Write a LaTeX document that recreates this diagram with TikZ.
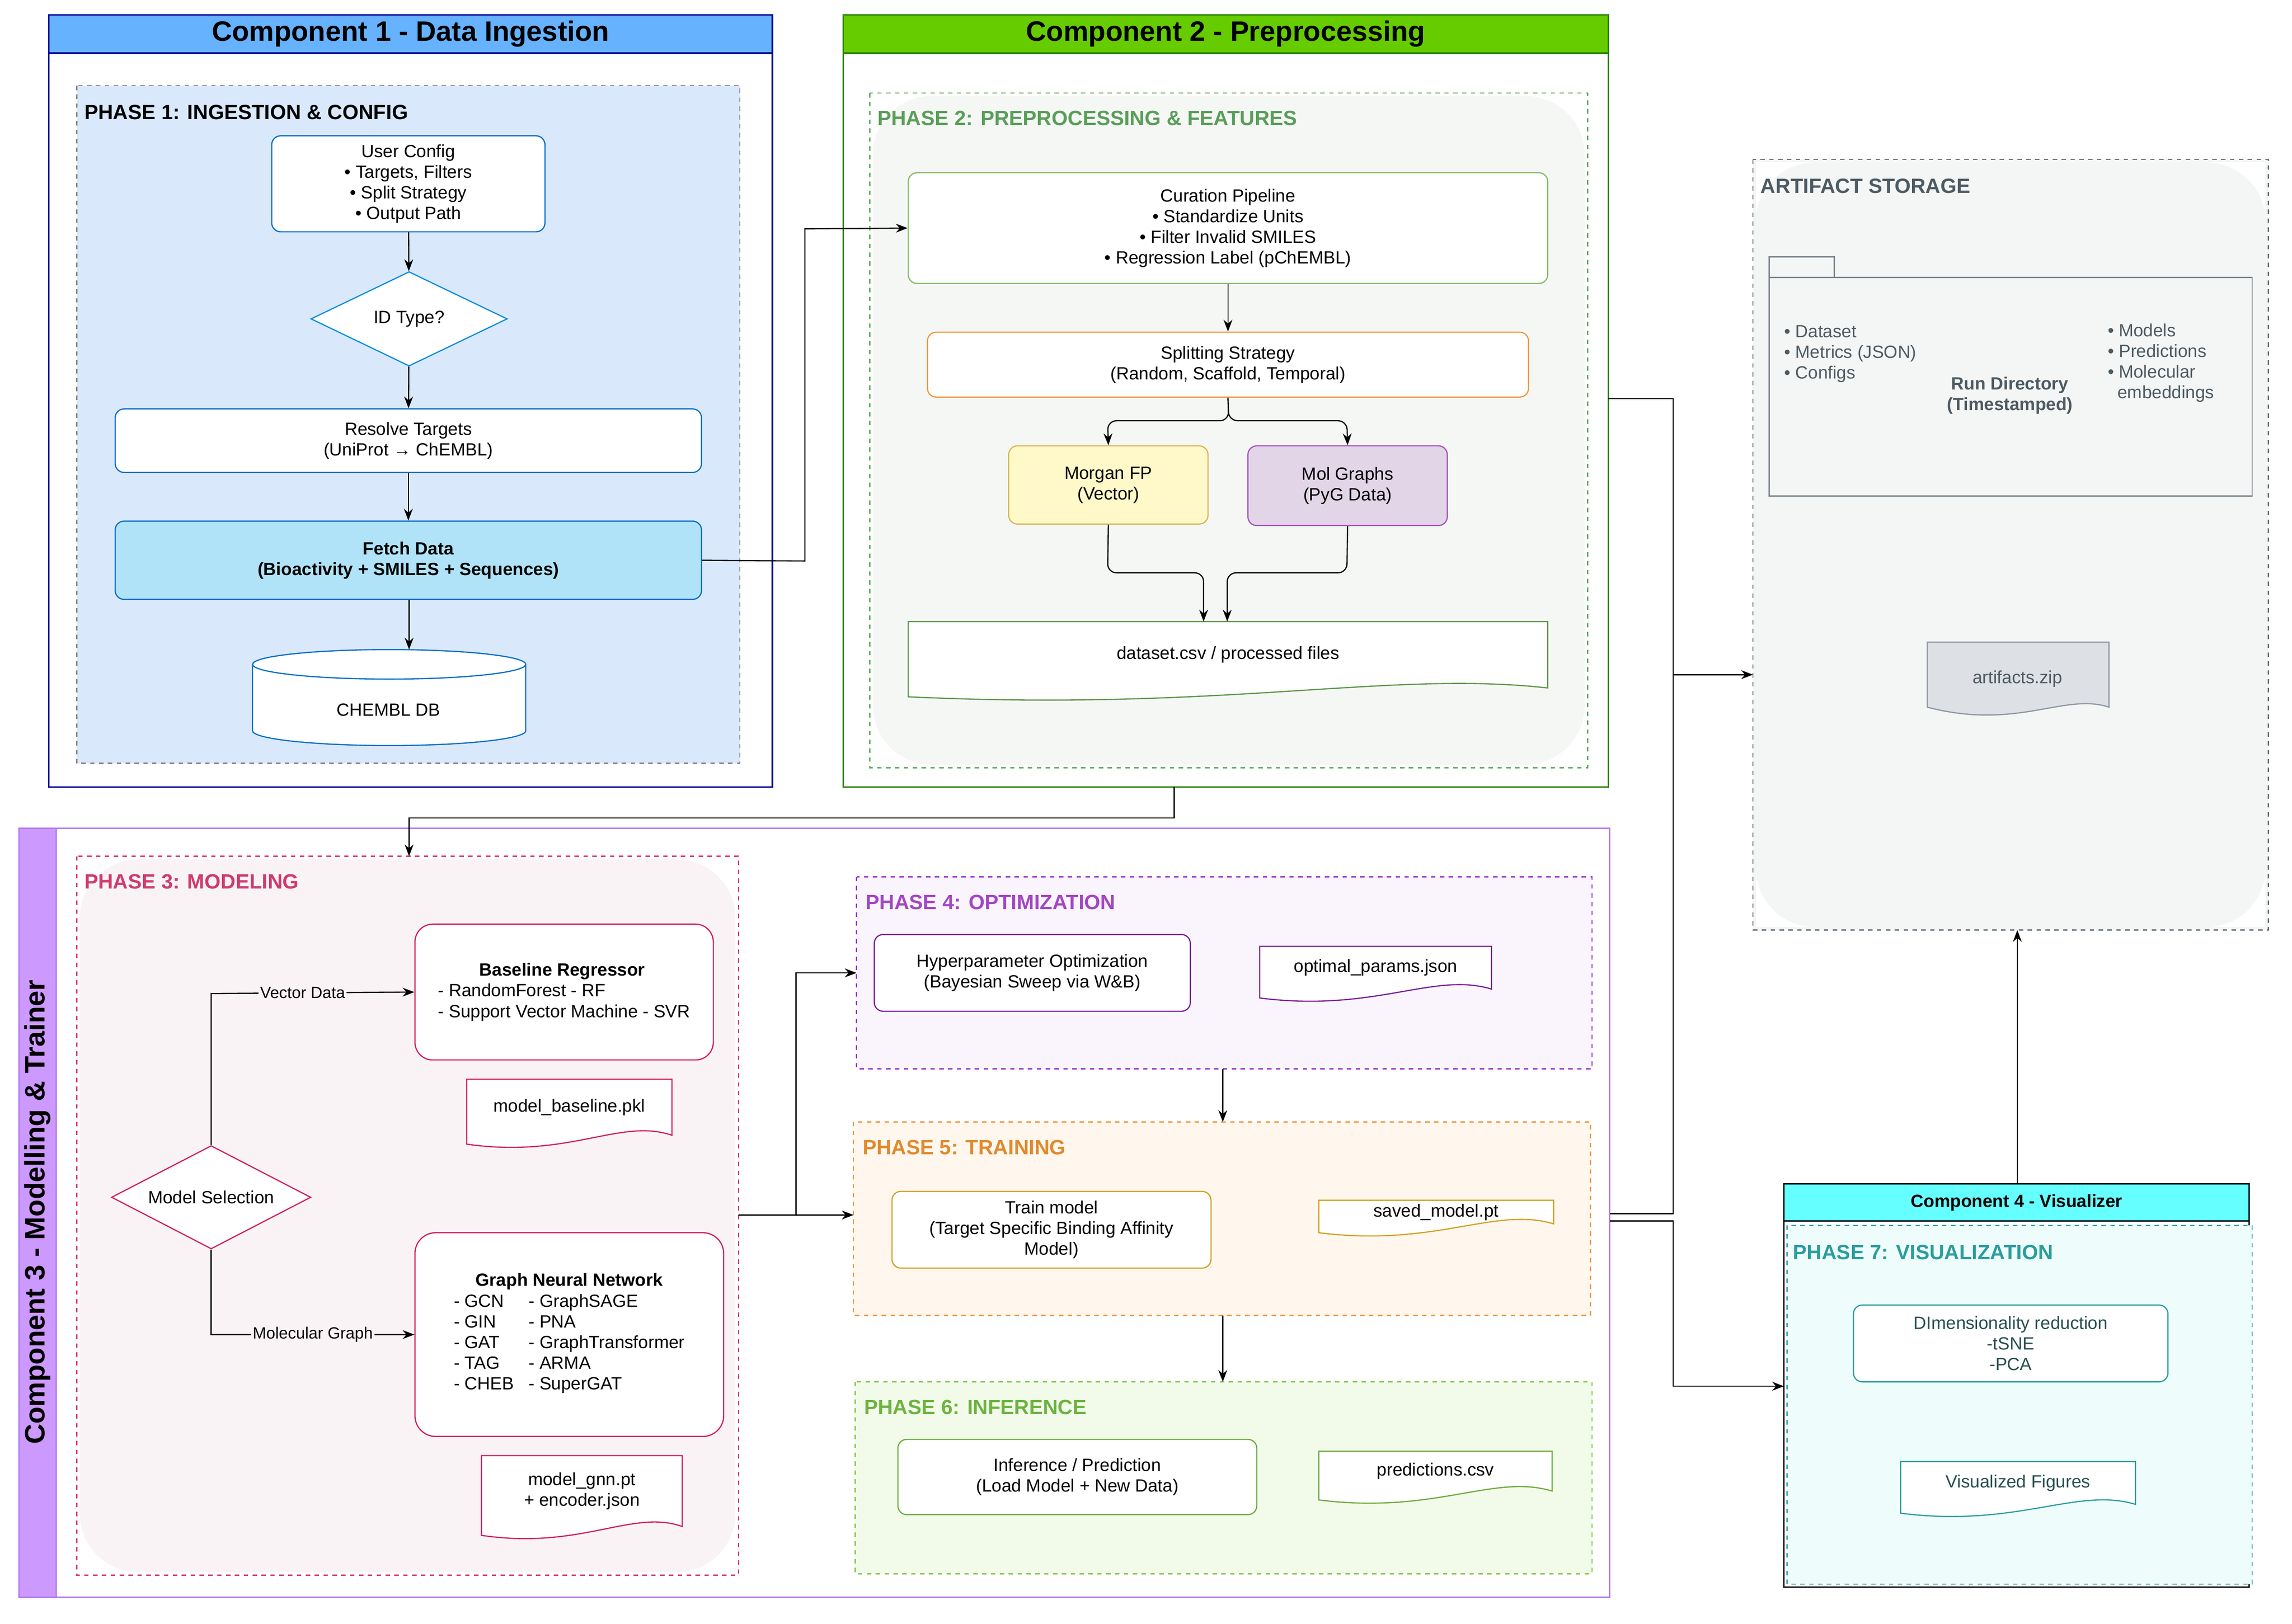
\documentclass[tikz,border=0pt]{standalone}
\usepackage{fontspec}
\setmainfont{Liberation Sans}
\usetikzlibrary{arrows.meta,shapes.geometric,calc}
\newcommand{\fs}[1]{\fontsize{#1}{\numexpr #1*6/5\relax}\selectfont}
\newcommand{\docsh}[7]{% name x1 y1 x2 y2 text color
 \draw[#7,fill=white,line width=0.8pt] (#2,#3) -- (#4,#3) -- (#4,#5-6)
  .. controls ({#4-(#4-#2)*0.25},{#5-18}) and ({#2+(#4-#2)*0.5},{#5+10}) .. (#2,#5) -- cycle;
 \node[txt] (#1) at ({(#2+#4)/2},{(#3+#5)/2-3}) {#6};}
\begin{document}
\begin{tikzpicture}[x=1pt,y=-1pt,
 txt/.style={font=\fs{12},align=center,inner sep=0},
 box/.style={draw,rounded corners=6pt,fill=white,line width=0.8pt,font=\fs{12},align=center},
 ar/.style={-{Stealth[length=8pt,width=6pt]},line width=0.8pt},
 ln/.style={line width=0.8pt},
 phase/.style={dashed,line width=0.8pt},
 ptitle/.style={anchor=north west,font=\bfseries\fs{14},inner sep=0}]
\useasboundingbox[fill=white] (0,0) rectangle (1552,1100);
% ===== Component 1
\draw[draw=blue!60!black,line width=1pt] (33,10) rectangle (523,533);
\draw[draw=blue!60!black,fill={rgb,255:red,102;green,178;blue,255},line width=1pt] (33,10) rectangle (523,36);
\node[font=\bfseries\fs{19}] (c1) at (278,23) {Component 1 - Data Ingestion};
\draw[phase,draw=gray,fill={rgb,255:red,218;green,232;blue,252}] (52,58) rectangle (501,517);
\node[ptitle] (p1) at (57,71) {PHASE 1: INGESTION \& CONFIG};
\node[box,draw={rgb,255:red,0;green,110;blue,200},minimum width=185pt,minimum height=65pt,inner sep=0] (uc) at (276.5,124.5) {User Config\\• Targets, Filters\\• Split Strategy\\• Output Path};
\node[draw={rgb,255:red,0;green,140;blue,220},fill=white,diamond,aspect=2.1,minimum width=133pt,minimum height=64pt,inner sep=0,line width=0.8pt,font=\fs{12}] (idt) at (277,216) {ID Type?};
\node[box,draw={rgb,255:red,0;green,110;blue,200},minimum width=397pt,minimum height=43pt,inner sep=0] (rt) at (276.5,298.5) {Resolve Targets\\(UniProt → ChEMBL)};
\node[box,draw={rgb,255:red,0;green,110;blue,200},fill={rgb,255:red,177;green,227;blue,248},minimum width=397pt,minimum height=53pt,inner sep=0,font=\bfseries\fs{12}] (fd) at (276.5,379.5) {Fetch Data\\(Bioactivity + SMILES + Sequences)};
\draw[fill=white,draw={rgb,255:red,0;green,110;blue,200},line width=0.8pt] (171,450) -- (171,495) arc[start angle=180,end angle=0,x radius=92.5,y radius=10] -- (356,450) arc[start angle=0,end angle=-180,x radius=92.5,y radius=10] -- cycle;
\draw[draw={rgb,255:red,0;green,110;blue,200},line width=0.8pt] (171,450) arc[start angle=180,end angle=0,x radius=92.5,y radius=10];
\node[txt] (db) at (263,481) {CHEMBL DB};
\coordinate (dbtop) at (277,440);
\draw[ar] (uc) -- (idt);
\draw[ar] (idt) -- (rt);
\draw[ar] (rt) -- (fd);
\draw[ar] (fd.south -| dbtop) -- (dbtop);
% ===== Component 2
\draw[draw={rgb,255:red,40;green,130;blue,0},line width=1pt] (571,10) rectangle (1089,533);
\draw[draw={rgb,255:red,40;green,130;blue,0},fill={rgb,255:red,102;green,204;blue,0},line width=1pt] (571,10) rectangle (1089,36);
\node[font=\bfseries\fs{19}] (c2) at (830,23) {Component 2 - Preprocessing};
\fill[rounded corners=40pt,fill={rgb,255:red,245;green,247;blue,245}] (591,65) rectangle (1073,518);
\draw[phase,draw={rgb,255:red,90;green,170;blue,90}] (589,63) rectangle (1075,520);
\node[ptitle,text={rgb,255:red,90;green,158;blue,90}] (p2) at (594,75) {PHASE 2: PREPROCESSING \& FEATURES};
\node[box,draw={rgb,255:red,130;green,190;blue,100},minimum width=433pt,minimum height=75pt,inner sep=0] (cur) at (831.5,154.5) {Curation Pipeline\\• Standardize Units\\• Filter Invalid SMILES\\• Regression Label (pChEMBL)};
\node[box,draw={rgb,255:red,240;green,150;blue,60},minimum width=407pt,minimum height=44pt,inner sep=0] (spl) at (831.5,247) {Splitting Strategy\\(Random, Scaffold, Temporal)};
\node[box,draw={rgb,255:red,214;green,182;blue,86},fill={rgb,255:red,255;green,248;blue,200},minimum width=135pt,minimum height=53pt,inner sep=0] (mfp) at (750.5,328.5) {Morgan FP\\(Vector)};
\node[box,draw={rgb,255:red,170;green,80;blue,190},fill={rgb,255:red,225;green,213;blue,231},minimum width=135pt,minimum height=54pt,inner sep=0] (mg) at (912.5,329) {Mol Graphs\\(PyG Data)};
\docsh{ds}{615}{421}{1048}{472}{dataset.csv / processed files}{draw={rgb,255:red,90;green,150;blue,70}}
\draw[ar] (cur) -- (spl);
\draw[ar,rounded corners=6pt] (spl.south) -- (832,285) -- (750,285) -- (mfp.north);
\draw[ar,rounded corners=6pt] (spl.south) -- (832,285) -- (912,285) -- (mg.north);
\draw[ar,rounded corners=6pt] (mfp.south) -- (750,388) -- (815,388) -- (815,421);
\draw[ar,rounded corners=6pt] (mg.south) -- (912,388) -- (831,388) -- (831,421);
\draw[ar] (fd.east) -- (545,380) -- (545,155) -- (cur.west);
% ===== Artifact storage
\draw[phase,draw={rgb,255:red,100;green,110;blue,120},fill={rgb,255:red,244;green,245;blue,245},rounded corners=0pt] (1187,108) rectangle (1536,630);
\fill[white] (1189,110) rectangle (1534,628);
\fill[rounded corners=40pt,fill={rgb,255:red,244;green,245;blue,245}] (1189,110) rectangle (1534,628);
\node[ptitle,text={rgb,255:red,77;green,91;blue,99}] (pa) at (1192,121) {ARTIFACT STORAGE};
\draw[draw={rgb,255:red,120;green,130;blue,140},line width=0.8pt] (1198,174) rectangle (1242,188);
\draw[draw={rgb,255:red,120;green,130;blue,140},line width=0.8pt] (1198,188) rectangle (1525,336);
\node[font=\fs{12},text={rgb,255:red,77;green,91;blue,99},align=left,anchor=north west,inner sep=0] (al) at (1208,220) {• Dataset\\• Metrics (JSON)\\• Configs};
\node[font=\bfseries\fs{12},text={rgb,255:red,77;green,91;blue,99},align=center] (rd) at (1361,268) {Run Directory\\(Timestamped)};
\node[font=\fs{12},text={rgb,255:red,77;green,91;blue,99},align=left,anchor=north west,inner sep=0] (ar2) at (1427,219) {• Models\\• Predictions\\• Molecular\\\ \ embeddings};
\draw[draw={rgb,255:red,140;green,150;blue,160},fill={rgb,255:red,221;green,224;blue,228},line width=0.8pt] (1305,435) -- (1428,435) -- (1428,479) .. controls (1398,469) and (1366,495) .. (1305,479) -- cycle;
\node[txt,text={rgb,255:red,77;green,91;blue,99}] (az) at (1366,460) {artifacts.zip};
% ===== Component 3
\draw[draw={rgb,255:red,180;green,120;blue,240},line width=1pt] (13,561) rectangle (1090,1082);
\draw[draw={rgb,255:red,180;green,120;blue,240},fill={rgb,255:red,204;green,153;blue,255},line width=1pt] (13,561) rectangle (38,1082);
\node[font=\bfseries\fs{19},rotate=90] (c3) at (25.5,821) {Component 3 - Modelling \& Trainer};
\fill[rounded corners=40pt,fill={rgb,255:red,250;green,243;blue,245}] (54,582) rectangle (498,1065);
\draw[phase,draw={rgb,255:red,213;green,51;blue,107}] (52,580) rectangle (500,1067);
\node[ptitle,text={rgb,255:red,208;green,58;blue,110}] (p3) at (57,592) {PHASE 3: MODELING};
\node[box,draw={rgb,255:red,210;green,30;blue,90},rounded corners=12pt,minimum width=202pt,minimum height=92pt,inner sep=0,align=left] (br) at (382,672) {\hspace*{28pt}\textbf{Baseline Regressor}\\- RandomForest - RF\\- Support Vector Machine - SVR};
\docsh{mbp}{316}{731}{455}{775}{model\_baseline.pkl}{draw={rgb,255:red,210;green,30;blue,90}}
\node[draw={rgb,255:red,210;green,30;blue,90},fill=white,diamond,aspect=1.93,minimum width=135pt,minimum height=70pt,inner sep=0,line width=0.8pt,font=\fs{12}] (ms) at (143,811) {Model Selection};
\node[box,draw={rgb,255:red,210;green,30;blue,90},rounded corners=14pt,minimum width=209pt,minimum height=138pt,inner sep=0] (gnn) at (385.5,904) {\textbf{Graph Neural Network}\\[1pt]\begin{tabular}{@{}l@{\hspace{10pt}}l@{}}- GCN & - GraphSAGE\\- GIN & - PNA\\- GAT & - GraphTransformer\\- TAG & - ARMA\\- CHEB & - SuperGAT\end{tabular}};
\docsh{mgn}{326}{986}{462}{1040}{model\_gnn.pt\\+ encoder.json}{draw={rgb,255:red,210;green,30;blue,90}}
\draw[ar] (ms.north) -- (143,673) -- (br.west) node[pos=0.45,fill={rgb,255:red,250;green,243;blue,245},inner sep=1pt,font=\fs{11}] {Vector Data};
\draw[ar] (ms.south) -- (143,904) -- (gnn.west) node[pos=0.5,fill={rgb,255:red,250;green,243;blue,245},inner sep=1pt,font=\fs{11}] {Molecular Graph};
% Phase 4
\draw[phase,draw={rgb,255:red,153;green,51;blue,204},fill={rgb,255:red,250;green,245;blue,252}] (580,594) rectangle (1078,724);
\node[ptitle,text={rgb,255:red,163;green,71;blue,196}] (p4) at (586,606) {PHASE 4: OPTIMIZATION};
\node[box,draw={rgb,255:red,120;green,30;blue,150},minimum width=214pt,minimum height=52pt,inner sep=0] (hp) at (699,659) {Hyperparameter Optimization\\(Bayesian Sweep via W\&B)};
\docsh{op}{853}{641}{1010}{676}{optimal\_params.json}{draw={rgb,255:red,120;green,30;blue,150}}
% Phase 5
\draw[phase,draw={rgb,255:red,240;green,150;blue,60},fill={rgb,255:red,255;green,247;blue,238}] (578,760) rectangle (1077,891);
\node[ptitle,text={rgb,255:red,224;green,138;blue,46}] (p5) at (584,772) {PHASE 5: TRAINING};
\node[box,draw={rgb,255:red,210;green,160;blue,30},minimum width=216pt,minimum height=52pt,inner sep=0] (tm) at (712,833) {Train model\\(Target Specific Binding Affinity\\Model)};
\docsh{sm}{893}{813}{1052}{835}{saved\_model.pt}{draw={rgb,255:red,210;green,160;blue,30}}
% Phase 6
\draw[phase,draw={rgb,255:red,130;green,200;blue,70},fill={rgb,255:red,242;green,251;blue,234}] (579,936) rectangle (1078,1066);
\node[ptitle,text={rgb,255:red,109;green,179;blue,63}] (p6) at (585,948) {PHASE 6: INFERENCE};
\node[box,draw={rgb,255:red,110;green,170;blue,60},minimum width=243pt,minimum height=51pt,inner sep=0] (inf) at (729.5,1000.5) {Inference / Prediction\\(Load Model + New Data)};
\docsh{pr}{893}{983}{1051}{1016}{predictions.csv}{draw={rgb,255:red,110;green,170;blue,60}}
\coordinate (p3r) at (500,823);
\coordinate (p5l) at (578,823);
\coordinate (p4l) at (580,659);
\draw[ar] (p3r) -- (539,823) -- (539,659) -- (p4l);
\draw[ar] (539,823) -- (p5l);
\draw[ar] (828,724) -- (828,760);
\draw[ar] (828,891) -- (828,936);
\draw[ar] (795,533) -- (795,554) -- (277,554) -- (277,580);
% ===== Component 4
\draw[line width=1pt] (1208,802) rectangle (1523,1075);
\draw[fill={rgb,255:red,102;green,255;blue,255},line width=1pt] (1208,802) rectangle (1523,827);
\node[font=\bfseries\fs{12}] (c4) at (1365.5,814.5) {Component 4 - Visualizer};
\draw[phase,draw={rgb,255:red,42;green,157;blue,157},fill={rgb,255:red,238;green,252;blue,252}] (1210,830) rectangle (1525,1073);
\node[ptitle,text={rgb,255:red,42;green,157;blue,157}] (p7) at (1214,843) {PHASE 7: VISUALIZATION};
\node[box,draw={rgb,255:red,42;green,157;blue,157},minimum width=213pt,minimum height=52pt,inner sep=0,text={rgb,255:red,40;green,80;blue,80}] (dr) at (1361.5,910) {DImensionality reduction\\-tSNE\\-PCA};
\docsh{vf}{1287}{990}{1446}{1025}{\textcolor[RGB]{40,80,80}{Visualized Figures}}{draw={rgb,255:red,42;green,157;blue,157}}
% ===== cross arrows
\draw[ar] (1089,270) -- (1133,270) -- (1133,457) -- (1187,457);
\draw[ln] (1090,822) -- (1133,822) -- (1133,457);
\draw[ar] (1090,827) -- (1133,827) -- (1133,939) -- (1208,939);
\draw[ar] (1366,802) -- (1366,630);
\end{tikzpicture}
\end{document}
